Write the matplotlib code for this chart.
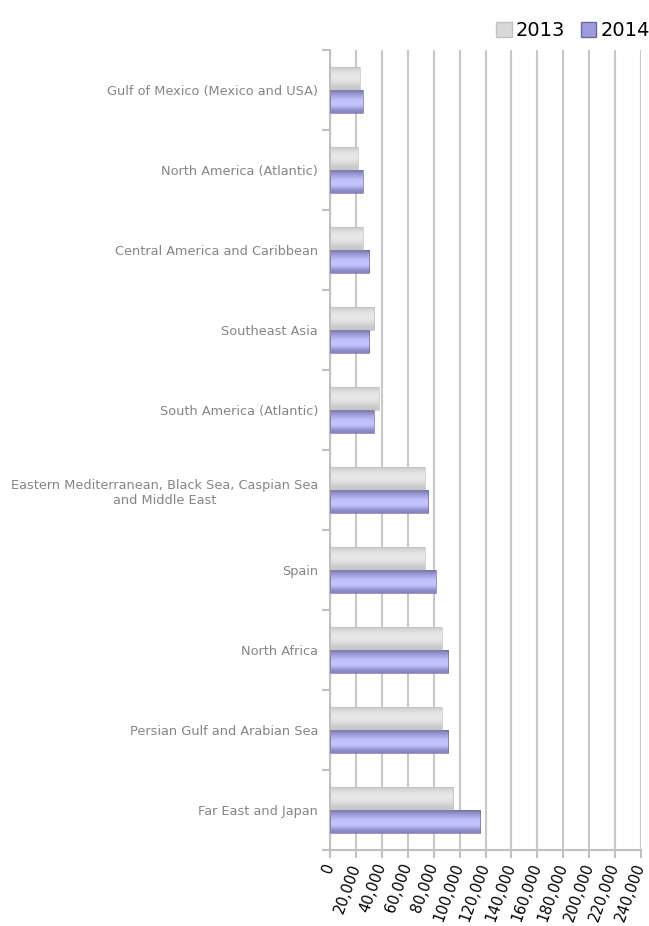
import numpy as np
import matplotlib
matplotlib.use("Agg")
import matplotlib.pyplot as plt
from matplotlib.patches import Patch
from matplotlib.ticker import FuncFormatter, MultipleLocator
from matplotlib.transforms import blended_transform_factory

categories = [
    "Gulf of Mexico (Mexico and USA)",
    "North America (Atlantic)",
    "Central America and Caribbean",
    "Southeast Asia",
    "South America (Atlantic)",
    "Eastern Mediterranean, Black Sea, Caspian Sea\nand Middle East",
    "Spain",
    "North Africa",
    "Persian Gulf and Arabian Sea",
    "Far East and Japan",
]
values_2013 = [22800, 21500, 25400, 34200, 37600, 73200, 73200, 86400, 86400, 95200]
values_2014 = [25400, 25400, 30300, 30300, 33700, 75700, 81700, 91300, 91300, 116000]
series_names = ["2013", "2014"]

fig = plt.figure(figsize=(6.49, 9.26), dpi=100)
ax = fig.add_axes([330/649, 1 - 850/926, (641-330)/649, (850-50)/926])

def gradient(c_top, c_mid, c_bot, peak=0.5, n=64):
    t = np.linspace(0, 1, n)
    top = np.array(matplotlib.colors.to_rgb(c_top))
    mid = np.array(matplotlib.colors.to_rgb(c_mid))
    bot = np.array(matplotlib.colors.to_rgb(c_bot))
    out = np.zeros((n, 1, 3))
    for i, ti in enumerate(t):
        if ti < peak:
            f = np.sin(0.5 * np.pi * ti / peak)
            out[i, 0] = top * (1 - f) + mid * f
        else:
            f = np.sin(0.5 * np.pi * (ti - peak) / (1 - peak)) ** 2
            out[i, 0] = mid * (1 - f) + bot * f
    return out

grad13 = gradient("#c4c4c4", "#e8e8e8", "#c8c8c8", peak=0.45)
grad14 = gradient("#6a6aa0", "#c4c4ff", "#8484c4", peak=0.6)

h = 0.29
y = np.arange(len(categories))
for vals, off, grad, edge in [(values_2013, -h/2, grad13, "#c0c0c0"),
                              (values_2014, h/2, grad14, "#7070a8")]:
    bars = ax.barh(y + off, vals, height=h, color="none", edgecolor=edge, linewidth=0.5, zorder=3)
    for b in bars:
        x0, yb = b.get_x(), b.get_y()
        w, hh = b.get_width(), b.get_height()
        im = ax.imshow(grad, extent=(x0, x0 + w, yb + hh, yb), origin="upper",
                       aspect="auto", zorder=2, interpolation="bilinear")
        im.set_clip_path(b)

ax.set_xlim(0, 240000)
ax.set_ylim(len(categories) - 0.5, -0.5)
ax.set_aspect("auto")

ax.xaxis.set_major_locator(MultipleLocator(20000))
ax.xaxis.set_major_formatter(FuncFormatter(lambda v, p: "0" if v == 0 else f"{int(v):,}"))
ax.grid(axis="x", color="#c8c8c8", linewidth=1.5, zorder=0)
ax.set_axisbelow(True)

ax.set_yticks(y)
ax.set_yticklabels(categories, fontsize=9.3, color="#858585", ha="right")
ax.tick_params(axis="y", length=0, pad=0)
for lab in ax.get_yticklabels():
    lab.set_multialignment("center")
    lab.set_transform(blended_transform_factory(fig.transFigure, ax.transData))
    lab.set_x(318/649)
ax.set_yticks(np.arange(len(categories) + 1) - 0.5, minor=True)
ax.tick_params(axis="y", which="minor", length=6, width=1.5, color="#c0c0c0")

ax.tick_params(axis="x", length=6, width=1.5, color="#c0c0c0", labelsize=10.5, labelcolor="black", pad=4)
for lab in ax.get_xticklabels():
    lab.set_rotation(70)
    lab.set_ha("right")
    lab.set_va("center")
    lab.set_rotation_mode("anchor")

for s in ["top", "right"]:
    ax.spines[s].set_visible(False)
for s in ["left", "bottom"]:
    ax.spines[s].set_color("#c0c0c0")
    ax.spines[s].set_linewidth(1.5)

handles = [Patch(facecolor="#d8d8d8", edgecolor="#c0c0c0"),
           Patch(facecolor="#9c9cdc", edgecolor="#6a6aa0")]
fig.legend(handles, series_names, loc="upper right", bbox_to_anchor=(1.022, 0.992),
           ncol=2, frameon=False, fontsize=14, handlelength=0.8, handleheight=0.8,
           handletextpad=0.2, columnspacing=0.8, borderaxespad=0.3)

fig.savefig("out.png", dpi=100)
